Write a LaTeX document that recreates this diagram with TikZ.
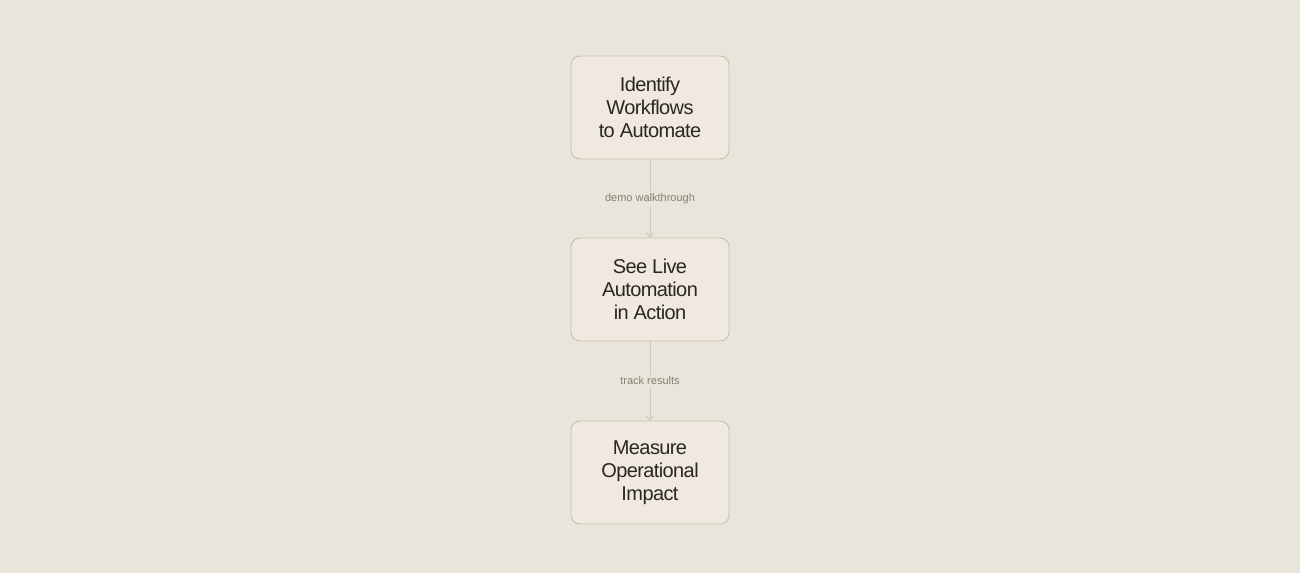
\documentclass[tikz,border=0pt]{standalone}
\usepackage{fontspec}
\setmainfont{Liberation Sans}
\newfontfamily\boxfont[LetterSpace=-3]{Liberation Sans}
\usetikzlibrary{arrows.meta}
\definecolor{bg}{HTML}{EAE5DA}
\definecolor{boxfill}{HTML}{EFE9DF}
\definecolor{boxline}{HTML}{C9BFB1}
\definecolor{txt}{HTML}{2B2620}
\definecolor{lbl}{HTML}{857E73}
\definecolor{conn}{HTML}{D0C8BB}
\tikzset{
  stepbox/.style={draw=boxline, fill=boxfill, line width=0.9pt, rounded corners=9pt,
    minimum width=158pt, minimum height=103pt, align=center, text=txt,
    font=\boxfont\fontsize{20}{23}\selectfont, inner sep=0pt},
  conntext/.style={fill=bg, text=lbl, font=\fontsize{11}{13}\selectfont, inner sep=2pt},
  connline/.style={draw=conn, line width=0.9pt, -{Straight Barb[length=4pt,width=7pt]}}
}
\begin{document}
\begin{tikzpicture}[x=1pt,y=-1pt]
\useasboundingbox[fill=bg] (0,0) rectangle (1300,573);
\node[stepbox] (a) at (650,107.5) {Identify\\Workflows\\to Automate};
\node[stepbox] (b) at (650,289.5) {See Live\\Automation\\in Action};
\node[stepbox] (c) at (650,472.5) {Measure\\Operational\\Impact};
\draw[connline] (a) -- node[conntext, pos=0.5] {demo walkthrough} (b);
\draw[connline] (b) -- node[conntext, pos=0.5] {track results} (c);
\end{tikzpicture}
\end{document}
